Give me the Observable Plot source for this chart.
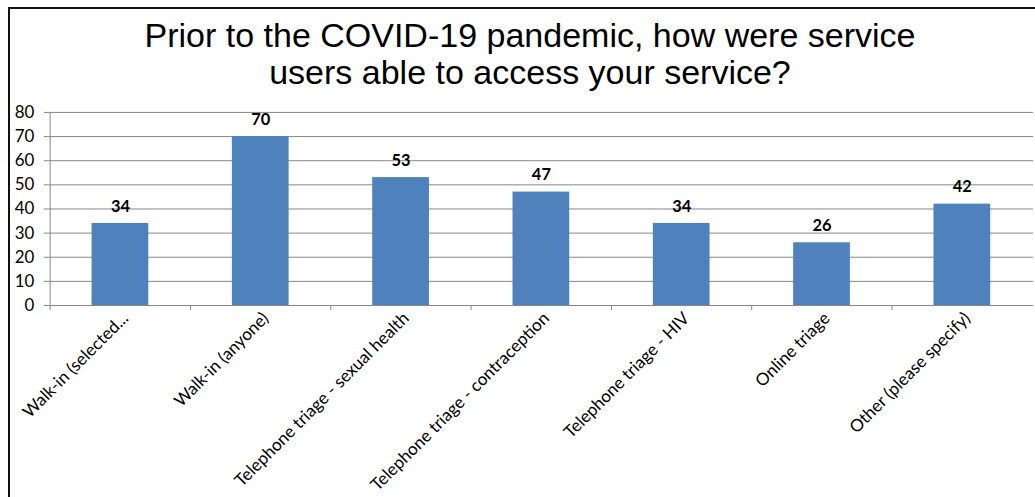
<!DOCTYPE html>
<html><head><meta charset="utf-8">
<script src="https://cdn.jsdelivr.net/npm/d3@7"></script>
<script src="https://cdn.jsdelivr.net/npm/@observablehq/plot@0.6"></script>
<style>
html,body{margin:0;padding:0;overflow:hidden;background:#fff;width:1035px;height:497px;}
#frame{position:absolute;left:8px;top:7px;width:1100px;height:600px;border-left:2px solid #111;border-top:2px solid #111;}
#title{position:absolute;left:0;width:1060px;top:17px;text-align:center;font-family:"Liberation Sans",Arial,sans-serif;font-size:34px;line-height:37px;color:#000;white-space:nowrap;}
#chart{position:absolute;left:0;top:100px;}
</style></head><body>
<div id="frame"></div>
<div id="title">Prior to the COVID-19 pandemic, how were service<br>users able to access your service?</div>
<div id="chart"></div>
<script>
const categories = ["Walk-in (selected...", "Walk-in (anyone)", "Telephone triage - sexual health", "Telephone triage - contraception", "Telephone triage - HIV", "Online triage", "Other (please specify)"];
const counts = [34, 70, 53, 47, 34, 26, 42];
const yTicks = [0, 10, 20, 30, 40, 50, 60, 70, 80];

const data = categories.map((c, i) => ({category: c, count: counts[i]}));
const W = 1040, mL = 49, mR = 2;
const step = (W - mL - mR) / categories.length;
const gray = "#868686";

const chart = Plot.plot({
  width: W, height: 420,
  marginLeft: mL, marginRight: mR, marginTop: 12, marginBottom: 214,
  style: {fontFamily: "Lato, 'Open Sans', sans-serif", fontSize: "17px", color: "#000", background: "transparent"},
  x: {type: "band", domain: categories, paddingInner: 0.597, paddingOuter: 0.2985},
  y: {domain: [0, 80]},
  marks: [
    Plot.gridY(yTicks.filter(v => v > 0), {stroke: gray, strokeOpacity: 1}),
    Plot.barY(data, {x: "category", y: "count", fill: "#4F81BD"}),
    Plot.ruleY([0], {stroke: gray}),
    Plot.ruleX([categories[0]], {x: d => d, y1: 0, y2: 80, dx: -step / 2, stroke: gray}),
    Plot.ruleX(categories, {x: d => d, y1: 0, y2: 0, dx: -step / 2, insetBottom: -5, stroke: gray}),
    Plot.text(data, {x: "category", y: "count", text: d => String(d.count), dy: -17, fontWeight: "bold", fontSize: 16.5, fill: "#000"}),
    Plot.axisY(yTicks, {tickSize: 5, tickPadding: 10, fontSize: 17, stroke: gray, fill: "#000", label: null}),
    Plot.axisX({tickSize: 0, tickPadding: 10, tickRotate: -45, fontSize: 17.2, fill: "#000", dx: 5, label: null})
  ]
});
document.getElementById("chart").appendChild(chart);
</script>
</body></html>
